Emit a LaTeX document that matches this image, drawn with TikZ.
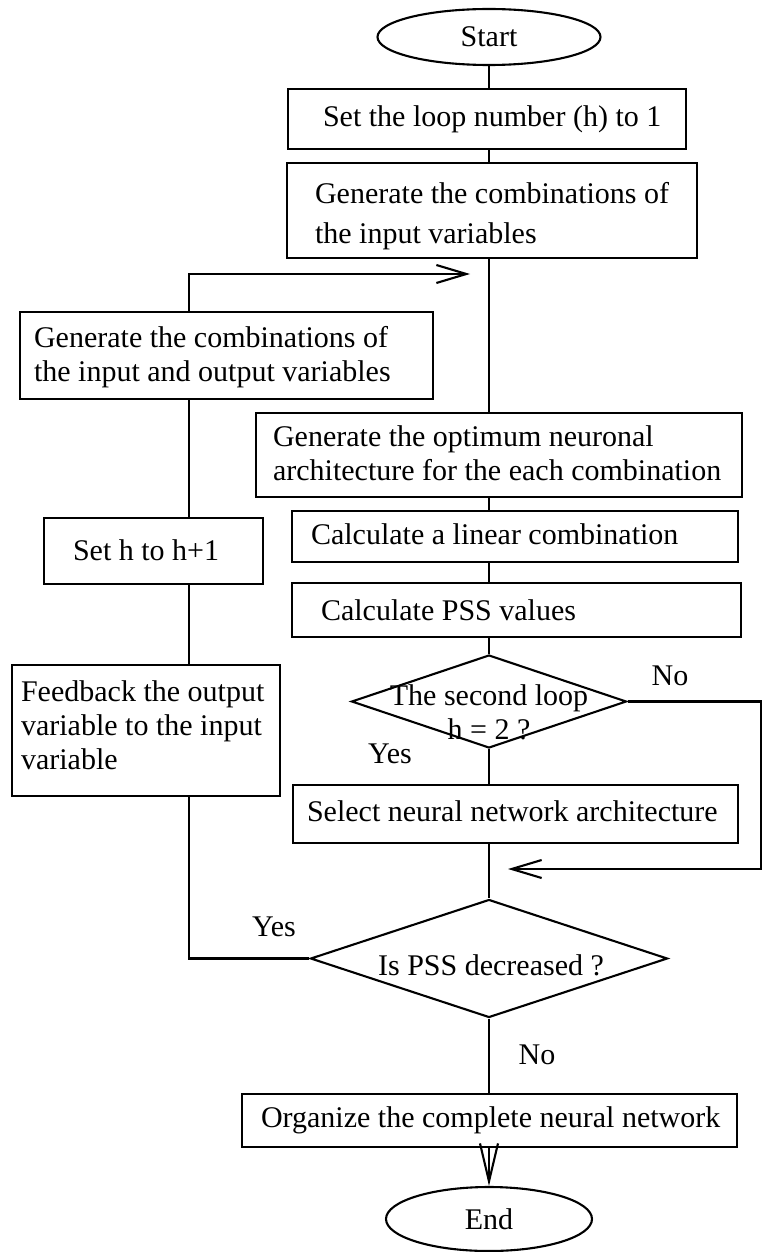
\documentclass[tikz,border=0pt]{standalone}
\usepackage{fontspec}
\setmainfont{Liberation Serif}
\usetikzlibrary{shapes.geometric,arrows.meta}

\begin{document}
\begin{tikzpicture}[x=1pt, y=-1pt, line width=2.1pt,
  font=\fontsize{30}{34}\selectfont,
  main/.style = {draw, rectangle, inner sep=0pt},
  term/.style = {draw, ellipse, inner sep=0pt},
  dec/.style = {draw, diamond, inner sep=0pt},
  txt/.style = {anchor=west, inner sep=0pt, align=flush left},
  arr/.style = {-{Straight Barb[length=30pt,width=18pt]}}]
\useasboundingbox (0,0) rectangle (763,1252);
% outlines
\node[term, minimum width=223pt, minimum height=56pt] (1) at (489,37) {Start};
\node[main, minimum width=398pt, minimum height=60pt] (2) at (487,119) {};
\node[main, minimum width=410pt, minimum height=95pt] (3) at (492,210.5) {};
\node[main, minimum width=413pt, minimum height=87pt] (4) at (226.5,355.5) {};
\node[main, minimum width=486pt, minimum height=84pt] (5) at (499,455) {};
\node[main, minimum width=446pt, minimum height=51pt] (6) at (515,536.5) {};
\node[main, minimum width=449pt, minimum height=54pt] (7) at (516.5,610) {};
\node[dec, minimum width=275pt, minimum height=93pt] (8) at (489,701.5) {};
\node[main, minimum width=445pt, minimum height=58pt] (9) at (515.5,814) {};
\node[dec, minimum width=357pt, minimum height=118pt] (10) at (489,958.5) {};
\node[main, minimum width=495pt, minimum height=53pt] (11) at (489.5,1120.5) {};
\node[term, minimum width=206pt, minimum height=64pt] (12) at (489,1219) {End};
\node[main, minimum width=219pt, minimum height=66pt] (13) at (153.5,551) {};
\node[main, minimum width=268pt, minimum height=131pt] (14) at (146,730.5) {};
% texts
\node[txt] (2t) at (322,119) {Set the loop number (h) to 1};
\node[txt] (3t) at (314,216) {Generate the combinations of\\[6pt]the input variables};
\node[txt] (4t) at (33,357) {Generate the combinations of\\the input and output variables};
\node[txt] (5t) at (272,453) {Generate the optimum neuronal\\architecture for the each combination};
\node[txt] (6t) at (310,534) {Calculate a linear combination};
\node[txt] (7t) at (320,610) {Calculate PSS values};
\node[align=center, inner sep=0pt] (8t) at (489,712) {The second loop\\h = 2 ?};
\node[txt] (9t) at (306,811) {Select neural network architecture};
\node[inner sep=0pt] (10t) at (491,965) {Is PSS decreased ?};
\node[txt] (11t) at (260,1120) {Organize the complete neural network};
\node[txt] (13t) at (72,550) {Set h to h+1};
\node[txt] (14t) at (20,725) {Feedback the output\\variable to the input\\variable};
% branch labels
\node (15) at (670,676) {No};
\node (16) at (390,754) {Yes};
\node (17) at (274,927) {Yes};
\node (18) at (537,1055) {No};
% free ends of the loop-back arrows
\coordinate (l1) at (189,274);
\coordinate (tipL) at (470,274);
\coordinate (r1) at (761,869);
\coordinate (tipR) at (508,869);
\draw (1) -- (2.north -| 1);
\draw (2.south -| 8) -- (3.north -| 8);
\draw (3.south -| 8) -- (5.north -| 8);
\draw (5.south -| 8) -- (6.north -| 8);
\draw (6.south -| 8) -- (7.north -| 8);
\draw (7.south -| 8) -- (8.north);
\draw (8.south) -- (9.north -| 8);
\draw (9.south -| 8) -- (10.north);
\draw (10.south) -- (11.north -| 10);
\draw[-{Straight Barb[length=38pt,width=18pt]}] (11.south -| 12) -- (12.north);
\draw[arr] (8.east) -| (r1) -- (tipR);
\draw[arr] (4.north -| l1) -- (l1) -- (tipL);
\draw (4.south -| l1) -- (13.north -| l1);
\draw (13.south -| l1) -- (14.north -| l1);
\draw (14.south -| l1) |- (10.west);
\end{tikzpicture}
\end{document}
